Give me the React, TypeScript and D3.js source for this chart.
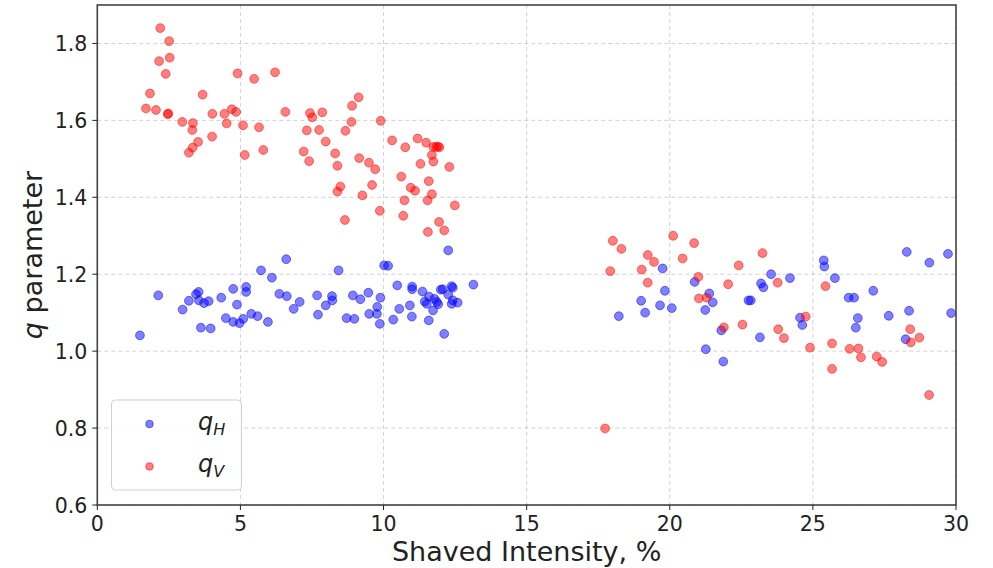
import React from "react";
import * as d3 from "d3";

const qH: [number, number][] = [
  [1.49, 1.041], [2.13, 1.145], [2.98, 1.108], [3.2, 1.131], [3.45, 1.148], [3.54, 1.154],
  [3.55, 1.132], [3.73, 1.125], [3.89, 1.13], [3.62, 1.061], [3.96, 1.059], [4.33, 1.139],
  [4.49, 1.086], [4.75, 1.162], [4.88, 1.121], [4.75, 1.076], [4.97, 1.073], [5.1, 1.084],
  [5.2, 1.167], [5.2, 1.154], [5.38, 1.097], [5.6, 1.091], [5.72, 1.21], [5.96, 1.076],
  [6.1, 1.191], [6.36, 1.149], [6.6, 1.239], [6.62, 1.143], [6.86, 1.11], [7.07, 1.128],
  [7.68, 1.145], [7.71, 1.095], [7.98, 1.119], [8.2, 1.143], [8.21, 1.132], [8.43, 1.21],
  [8.71, 1.086], [8.98, 1.084], [8.93, 1.145], [9.19, 1.135], [9.47, 1.152], [9.5, 1.097],
  [9.77, 1.097], [9.78, 1.115], [9.87, 1.071], [9.89, 1.139], [10.02, 1.223], [10.16, 1.222],
  [10.34, 1.082], [10.48, 1.171], [10.55, 1.11], [10.92, 1.119], [10.99, 1.09], [11.0, 1.168],
  [11.0, 1.161], [11.36, 1.155], [11.44, 1.129], [11.59, 1.142], [11.58, 1.08], [11.51, 1.123],
  [11.73, 1.106], [11.78, 1.136], [11.86, 1.128], [11.91, 1.122], [12.0, 1.16], [12.07, 1.161],
  [12.12, 1.045], [12.26, 1.262], [12.38, 1.169], [12.42, 1.165], [12.26, 1.147], [12.42, 1.132],
  [12.38, 1.123], [12.59, 1.126], [13.14, 1.173],
  [19.75, 1.215], [18.22, 1.091], [19.0, 1.131], [19.14, 1.1], [19.66, 1.119], [19.83, 1.157],
  [20.07, 1.112], [20.87, 1.18], [21.38, 1.15], [21.5, 1.127], [21.24, 1.107], [21.8, 1.054],
  [21.26, 1.005], [21.87, 0.973], [22.75, 1.132], [22.83, 1.132], [23.19, 1.176], [23.27, 1.166],
  [23.54, 1.2], [23.15, 1.036], [24.2, 1.19], [24.55, 1.087], [24.63, 1.068], [25.38, 1.236],
  [25.4, 1.22], [25.77, 1.19], [26.25, 1.139], [26.44, 1.139], [26.57, 1.086], [26.5, 1.061],
  [27.11, 1.157], [27.65, 1.092], [28.28, 1.258], [28.36, 1.105], [28.24, 1.031], [29.07, 1.23],
  [29.72, 1.253], [29.83, 1.099],
];

const qV: [number, number][] = [
  [2.2, 1.84], [2.51, 1.806], [2.16, 1.754], [2.53, 1.763], [2.39, 1.721], [1.84, 1.67],
  [1.7, 1.631], [2.05, 1.627], [2.46, 1.616], [2.48, 1.618], [2.97, 1.596], [3.34, 1.593],
  [3.32, 1.575], [3.68, 1.667], [3.52, 1.544], [3.33, 1.529], [3.2, 1.516], [4.02, 1.617],
  [4.01, 1.558], [4.44, 1.617], [4.7, 1.629], [4.85, 1.622], [4.52, 1.592], [4.9, 1.722],
  [5.09, 1.587], [5.15, 1.51], [5.48, 1.708], [5.65, 1.582], [5.8, 1.523], [6.21, 1.725],
  [6.57, 1.622], [7.43, 1.619], [7.51, 1.608], [7.86, 1.621], [7.32, 1.574], [7.75, 1.575],
  [7.21, 1.519], [7.4, 1.494], [7.98, 1.545], [8.31, 1.514], [8.39, 1.482], [8.49, 1.428],
  [8.39, 1.415], [8.65, 1.341], [8.67, 1.573], [8.88, 1.596], [8.9, 1.638], [9.13, 1.66],
  [9.15, 1.502], [9.49, 1.49], [9.71, 1.473], [9.6, 1.432], [9.26, 1.405], [9.87, 1.365],
  [9.9, 1.599], [10.3, 1.548], [10.76, 1.53], [10.62, 1.454], [10.95, 1.425], [11.1, 1.417],
  [10.73, 1.392], [10.69, 1.352], [11.19, 1.553], [11.49, 1.542], [11.74, 1.531], [11.84, 1.531],
  [11.9, 1.532], [11.95, 1.53], [11.69, 1.51], [11.74, 1.493], [11.29, 1.487], [12.3, 1.479],
  [11.58, 1.442], [11.69, 1.408], [11.54, 1.392], [12.49, 1.379], [11.94, 1.336], [12.12, 1.314],
  [11.55, 1.31],
  [17.74, 0.799], [18.01, 1.287], [18.31, 1.266], [17.92, 1.208], [19.23, 1.25], [19.45, 1.232],
  [19.02, 1.212], [19.23, 1.178], [20.12, 1.3], [20.45, 1.241], [20.85, 1.281], [21.0, 1.193],
  [21.02, 1.137], [21.29, 1.139], [21.89, 1.062], [22.04, 1.174], [22.41, 1.223], [22.54, 1.069],
  [23.24, 1.255], [23.77, 1.178], [23.79, 1.057], [23.99, 1.034], [24.75, 1.09], [24.9, 1.009],
  [25.44, 1.169], [25.67, 1.02], [25.67, 0.954], [26.28, 1.006], [26.59, 1.007], [26.68, 0.984],
  [27.23, 0.986], [27.42, 0.972], [28.4, 1.057], [28.42, 1.023], [28.72, 1.035], [29.06, 0.886],
];

const xTicks = [0, 5, 10, 15, 20, 25, 30];
const yTicks = [0.6, 0.8, 1.0, 1.2, 1.4, 1.6, 1.8];

const W = 993;
const H = 568;
const L = 97.3, R = 956, T = 5, B = 505;

export default function App() {
  const x = d3.scaleLinear().domain([0, 30]).range([L, R]);
  const y = d3.scaleLinear().domain([0.6, 1.9]).range([B, T]);
  const font = "'DejaVu Sans', sans-serif";
  const r = 4.4;
  return (
    <svg width={W} height={H} style={{ position: "absolute", left: 0, top: 0, background: "#fff" }} fontFamily={font}>
      <rect x={0} y={0} width={W} height={H} fill="#fff" />
      <defs>
        <clipPath id="plot">
          <rect x={L} y={T} width={R - L} height={B - T} />
        </clipPath>
      </defs>
      {xTicks.map((t) => (
        <line key={"gx" + t} x1={x(t)} x2={x(t)} y1={T} y2={B} stroke="#b0b0b0" strokeWidth={0.8} strokeDasharray="4,3" opacity={0.7} />
      ))}
      {yTicks.map((t) => (
        <line key={"gy" + t} x1={L} x2={R} y1={y(t)} y2={y(t)} stroke="#b0b0b0" strokeWidth={0.8} strokeDasharray="4,3" opacity={0.7} />
      ))}
      <g clipPath="url(#plot)">
        {qH.map((d, i) => (
          <circle key={"h" + i} cx={x(d[0])} cy={y(d[1])} r={r} fill="#0000ff" fillOpacity={0.5} stroke="#0000ff" strokeOpacity={0.5} strokeWidth={1} />
        ))}
        {qV.map((d, i) => (
          <circle key={"v" + i} cx={x(d[0])} cy={y(d[1])} r={r} fill="#ff0000" fillOpacity={0.5} stroke="#ff0000" strokeOpacity={0.5} strokeWidth={1} />
        ))}
      </g>
      <rect x={L} y={T} width={R - L} height={B - T} fill="none" stroke="#444" strokeWidth={1.6} />
      {xTicks.map((t) => (
        <g key={"xt" + t}>
          <line x1={x(t)} x2={x(t)} y1={B} y2={B + 5} stroke="#222" strokeWidth={1} />
          <text x={x(t)} y={B + 26} textAnchor="middle" fontSize={20.5} fill="#222">{t}</text>
        </g>
      ))}
      {yTicks.map((t) => (
        <g key={"yt" + t}>
          <line x1={L - 5} x2={L} y1={y(t)} y2={y(t)} stroke="#222" strokeWidth={1} />
          <text x={L - 10} y={y(t) + 8} textAnchor="end" fontSize={20.5} fill="#222">{t.toFixed(1)}</text>
        </g>
      ))}
      <text x={(L + R) / 2} y={561} textAnchor="middle" fontSize={27} fill="#222">Shaved Intensity, %</text>
      <text transform={`translate(42,${(T + B) / 2}) rotate(-90)`} textAnchor="middle" fontSize={27} fill="#222">
        <tspan fontStyle="italic">q</tspan> parameter
      </text>
      <rect x={111.5} y={400} width={130} height={90} rx={4} fill="#fff" fillOpacity={0.85} stroke="#d0d0d0" strokeWidth={1} />
      <circle cx={149.5} cy={424} r={3.8} fill="#0000ff" fillOpacity={0.5} stroke="#0000ff" strokeOpacity={0.5} />
      <circle cx={149.5} cy={466.5} r={3.8} fill="#ff0000" fillOpacity={0.5} stroke="#ff0000" strokeOpacity={0.5} />
      <text x={198} y={430} fontSize={24} fill="#222" fontStyle="italic">
        q<tspan fontSize={16} dy={5}>H</tspan>
      </text>
      <text x={198} y={472} fontSize={24} fill="#222" fontStyle="italic">
        q<tspan fontSize={16} dy={5}>V</tspan>
      </text>
    </svg>
  );
}
